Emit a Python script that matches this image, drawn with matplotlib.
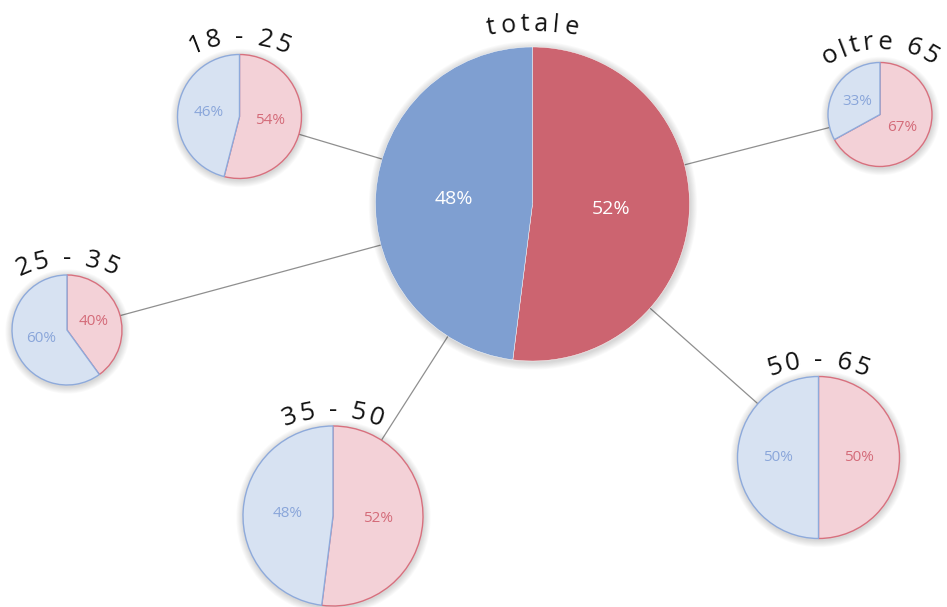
import numpy as np
import matplotlib
matplotlib.use('Agg')
import matplotlib.pyplot as plt
from matplotlib.patches import Circle
from matplotlib.font_manager import FontProperties

# %% data
groups = ['totale', '18 - 25', '25 - 35', '35 - 50', '50 - 65', 'oltre 65']
red_pct = [52, 54, 40, 52, 50, 67]
blue_pct = [48, 46, 60, 48, 50, 33]

# %% layout (pixel positions, y from top): center x, center y, radius, title baseline at apex, arc radius
layout = {
    'totale':   (532.5, 204.0, 157, 31, 250),
    '18 - 25':  (239.5, 116.5, 62, 44, 115),
    '25 - 35':  (67.0, 330.0, 55, 265, 104),
    '35 - 50':  (333.0, 516.0, 90, 417, 125),
    '50 - 65':  (818.5, 457.5, 81, 367, 125),
    'oltre 65': (880.0, 114.5, 52, 49, 95),
}

W, H = 947, 607
RED, BLUE = '#cc6470', '#7f9fd1'
RED_L, BLUE_L = '#f3d1d7', '#d7e2f2'
RED_E, BLUE_E = '#d8707e', '#8eaadb'
RED_T, BLUE_T = '#d46b79', '#8aa6da'

fig = plt.figure(figsize=(W / 100, H / 100), dpi=100)
ax = fig.add_axes([0, 0, 1, 1])
renderer = fig.canvas.get_renderer()


def yy(y):
    return H - y


def char_width(ch, prop):
    w1, _, _ = renderer.get_text_width_height_descent('x' + ch + 'x', prop, ismath=False)
    w0, _, _ = renderer.get_text_width_height_descent('xx', prop, ismath=False)
    return w1 - w0


def arc_text(txt, cx, base_y, R, size, track=4):
    prop = FontProperties(family=['Open Sans', 'DejaVu Sans'], size=size)
    widths = [char_width(c, prop) for c in txt]
    L = sum(widths) + track * (len(txt) - 1)
    acx, acy = cx, yy(base_y) - R
    s = -L / 2
    for c, w in zip(txt, widths):
        phi = (s + w / 2) / R
        x = acx + R * np.sin(phi)
        y = acy + R * np.cos(phi)
        ax.text(x, y, c, fontproperties=prop, ha='center', va='baseline',
                rotation=-np.degrees(phi), rotation_mode='anchor', color='#111111')
        s += w + track


# connector lines, behind everything
cx0, cy0 = layout['totale'][0], layout['totale'][1]
for g in groups[1:]:
    cx, cy = layout[g][0], layout[g][1]
    ax.plot([cx0, cx], [yy(cy0), yy(cy)], color='#8f8f8f', lw=0.9, zorder=1)

for i, g in enumerate(groups):
    cx, cy, r, base_y, R = layout[g]
    # soft shadow
    for k in range(1, 9):
        ax.add_patch(Circle((cx + 0.5, yy(cy) - 1.5), r + k * 0.9, color='#000000',
                            alpha=0.02, lw=0, zorder=2))
    if i == 0:
        cols, tcol, fs, ec, lw = [RED, BLUE], ['white', 'white'], 14, 'white', 0.3
    else:
        cols, tcol, fs = [RED_L, BLUE_L], [RED_T, BLUE_T], 11
        ec, lw = 'none', 1.0
    wedges, _, autotexts = ax.pie(
        [red_pct[i], blue_pct[i]], colors=cols, startangle=90, counterclock=False,
        center=(cx, yy(cy)), radius=r, autopct=lambda p: '%.0f%%' % p, pctdistance=0.5,
        wedgeprops=dict(linewidth=lw, edgecolor=ec), frame=True)
    if i > 0:
        wedges[0].set_edgecolor(RED_E)
        wedges[1].set_edgecolor(BLUE_E)
    for w in wedges:
        w.set_zorder(3)
    for t, c in zip(autotexts, tcol):
        t.set_color(c)
        t.set_fontsize(fs)
        t.set_family(['Open Sans', 'DejaVu Sans'])
        t.set_zorder(4)
    if i == 0:
        arc_text(g, cx, base_y, R, 18, track=4.5)
    else:
        arc_text(g, cx, base_y, R, 18.5, track=3)

ax.set_xlim(0, W)
ax.set_ylim(0, H)
ax.set_aspect('equal')
ax.axis('off')

fig.savefig('out.png', dpi=100, facecolor='white')
